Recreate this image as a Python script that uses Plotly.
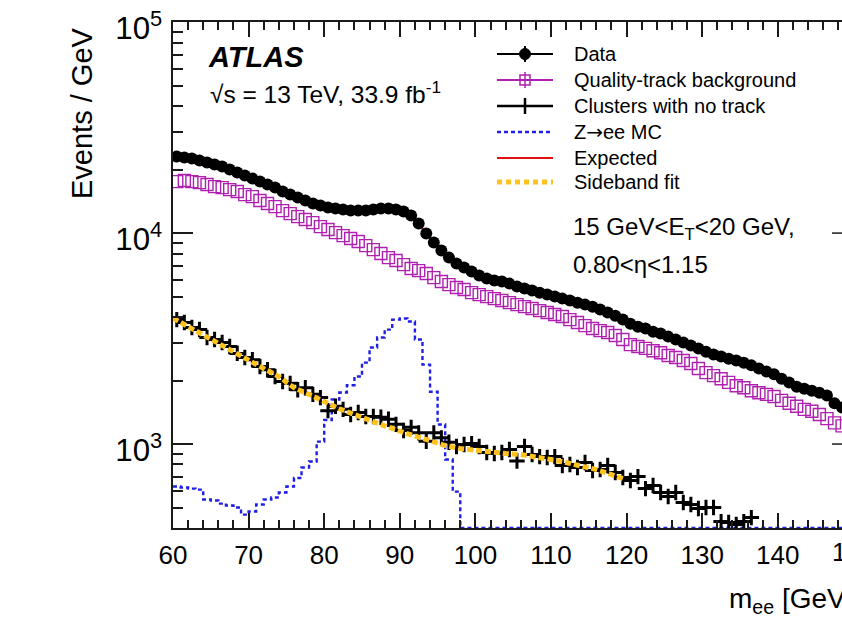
import numpy as np
import plotly.graph_objects as go

# ---------------- data ----------------
mee_bins = np.arange(60.5, 150.0, 1.0)  # 1 GeV bins, centres 60.5 ... 149.5

data_vals = [23050, 22790, 22540, 22060, 21580, 21120, 20660, 20000, 19350, 18730,
             18130, 17540, 16980, 16430, 15730, 15220, 14730, 14260, 13800, 13500,
             13210, 13070, 12920, 12780, 12780, 12780, 12920, 13070, 13070, 12920,
             12640, 12100, 11090, 9950, 9020, 8260, 7650, 7170, 6860, 6570,
             6290, 6090, 5960, 5890, 5760, 5580, 5460, 5340, 5220, 5110,
             5000, 4890, 4790, 4680, 4580, 4480, 4340, 4200, 4060, 3890,
             3720, 3600, 3530, 3410, 3340, 3230, 3130, 3030, 2930, 2840,
             2740, 2660, 2600, 2540, 2490, 2430, 2360, 2280, 2210, 2140,
             2040, 1960, 1870, 1830, 1790, 1750, 1700, 1560, 1490, 1440]

expected_vals = [23050, 22790, 22540, 22060, 21580, 21120, 20660, 20000, 19350, 18730,
                 18130, 17540, 16980, 16430, 15730, 15220, 14730, 14260, 13800, 13500,
                 13210, 13070, 12920, 12780, 12780, 12780, 12920, 13070, 13070, 12920,
                 12640, 12100, 11090, 9950, 9020, 8260, 7650, 7170, 6860, 6570,
                 6290, 6090, 5960, 5890, 5760, 5580, 5460, 5340, 5220, 5110,
                 5000, 4890, 4790, 4680, 4580, 4480, 4340, 4200, 4060, 3890,
                 3720, 3600, 3530, 3410, 3340, 3230, 3130, 3030, 2930, 2840,
                 2740, 2660, 2600, 2540, 2490, 2430, 2360, 2280, 2210, 2140,
                 2040, 1960, 1870, 1830, 1790, 1750, 1700, 1560, 1490, 1440]

quality_vals = [17540, 17740, 17540, 17350, 16980, 16610, 16430, 16070, 15730, 15220,
                14890, 14260, 13800, 13350, 12780, 12370, 11970, 11590, 11210, 10730,
                10390, 10050, 9730, 9420, 9120, 8720, 8350, 8000, 7650, 7410,
                7090, 6790, 6640, 6430, 6150, 5890, 5700, 5520, 5400, 5220,
                5110, 5000, 4890, 4790, 4680, 4580, 4480, 4390, 4290, 4200,
                4110, 4020, 3890, 3770, 3640, 3530, 3450, 3380, 3270, 3130,
                2960, 2900, 2840, 2770, 2710, 2630, 2570, 2490, 2410, 2280,
                2180, 2110, 2040, 1960, 1890, 1850, 1790, 1750, 1720, 1680,
                1610, 1560, 1510, 1460, 1430, 1380, 1320, 1260, 1220, 1180]

# clusters with no track: visible bins 60.5 ... 136.5
clusters_vals = [3890, 3770, 3570, 3490, 3200, 3130, 3030, 2900, 2690, 2570,
                 2510, 2330, 2250, 2090, 1980, 1940, 1810, 1850, 1720, 1660,
                 1440, 1510, 1460, 1380, 1410, 1350, 1350, 1340, 1310, 1240,
                 1160, 1200, 1130, 1030, 1130, 1070, 1020, 973, 995, 1005,
                 973, 912, 902, 912, 942, 831, 973, 892, 872, 863,
                 872, 791, 800, 774, 817, 749, 757, 791, 733, 694,
                 672, 701, 615, 636, 589, 564, 589, 528, 517, 495,
                 500, 500, 429, 425, 416, 429, 448]

# Z->ee MC histogram (bins 60-61 ... 149-150); 400 = drawn on the frame floor
zee_vals = [629, 622, 615, 608, 546, 540, 522, 511, 500, 463,
            479, 517, 546, 558, 589, 629, 690, 774, 827, 1027,
            1300, 1625, 1754, 1900, 2089, 2433, 2867, 3200, 3488, 3890,
            3934, 3807, 3130, 2380, 1770, 1237, 845, 595, 400, 400,
            400, 400, 400, 400, 400, 400, 400, 400, 400, 400,
            400, 400, 400, 400, 400, 400, 400, 400, 400, 400,
            400, 400, 400, 400, 400, 400, 400, 400, 400, 400,
            400, 400, 400, 400, 400, 400, 400, 400, 400, 400,
            400, 400, 400, 400, 400, 400, 400, 400, 400, 400]

fit_x = [60, 62, 64, 66, 68, 70, 72, 74, 76, 78, 80, 82, 84, 86, 88, 90,
         92, 94, 96, 98, 100, 102, 104, 106, 108, 110, 112, 114, 116, 118, 119.5]
fit_vals = [3950, 3600, 3270, 2990, 2740, 2510, 2280, 2090, 1850, 1720, 1590, 1470,
            1380, 1290, 1220, 1150, 1090, 1040, 984, 952, 932, 912, 902, 892, 872,
            845, 817, 791, 757, 717, 686]

legend_labels = ["Data", "Quality-track background", "Clusters with no track",
                 "Z<span style=\"font-family:'DejaVu Sans'\">\u2192</span>ee MC",
                 "Expected", "Sideband fit"]

# ---------------- styling / layout constants ----------------
FONT = "Liberation Sans"
W, H = 842, 619
L, T = 173, 22
PW, PH = 669, 506
PX_PER_GEV = 7.56
X0 = 60.0
X1 = X0 + PW / PX_PER_GEV
YLO, YHI = np.log10(400), 5.0005
AX = "#1a1a1a"

BLUE = "#1f1fe6"
MAG = "#b020b0"
ORANGE = "#ffc21f"
RED = "#e01010"


def px_x(px):
    return (px - L) / PW


def px_y(py):
    return (T + PH - py) / PH


def val_y(v):
    return (np.log10(v) - YLO) / (YHI - YLO)


fig = go.Figure()

# Z -> ee MC step histogram
fig.add_trace(go.Scatter(x=mee_bins - 0.5, y=zee_vals, mode="lines",
                         line=dict(color=BLUE, width=2.4, dash="4px,3px", shape="hv"),
                         name="Z\u2192ee MC"))
# Clusters with no track
fig.add_trace(go.Scatter(x=mee_bins[:len(clusters_vals)], y=clusters_vals, mode="markers",
                         marker=dict(symbol="cross-thin", size=11, color="black",
                                     line=dict(color="black", width=3)),
                         name="Clusters with no track"))
# Sideband fit
fig.add_trace(go.Scatter(x=fit_x, y=fit_vals, mode="lines",
                         line=dict(color=ORANGE, width=5, dash="6px,3px"),
                         name="Sideband fit"))
# Quality-track background
fig.add_trace(go.Scatter(x=mee_bins, y=quality_vals, mode="markers",
                         marker=dict(symbol="square-open", size=12, color=MAG,
                                     line=dict(color=MAG, width=1.4)),
                         name="Quality-track background"))
# Expected
fig.add_trace(go.Scatter(x=mee_bins, y=expected_vals, mode="lines",
                         line=dict(color=RED, width=1.6), name="Expected"))
# Data
fig.add_trace(go.Scatter(x=mee_bins, y=data_vals, mode="markers",
                         marker=dict(symbol="circle", size=12, color="black"),
                         name="Data"))

# ---------------- axes ----------------
fig.update_xaxes(range=[X0, X1], showgrid=False, zeroline=False,
                 showline=True, linecolor=AX, linewidth=1.5, mirror="ticks",
                 ticks="inside", ticklen=15, tickwidth=1.5, tickcolor=AX,
                 tick0=60, dtick=10,
                 minor=dict(ticks="inside", ticklen=8, tickwidth=1.5, tickcolor=AX, dtick=2),
                 tickfont=dict(family=FONT, size=26, color="black"),
                 ticklabelstandoff=3)
fig.update_yaxes(type="log", range=[YLO, YHI], showgrid=False, zeroline=False,
                 showline=True, linecolor=AX, linewidth=1.5, mirror=False,
                 ticks="inside", ticklen=20, tickwidth=1.5, tickcolor=AX,
                 dtick=1, exponentformat="power",
                 minor=dict(ticks="inside", ticklen=10, tickwidth=1.5, tickcolor=AX, dtick="D1"),
                 tickfont=dict(family=FONT, size=25, color="black"),
                 ticklabelstandoff=4, ticklabelshift=6, ticklabeloverflow="allow")

shapes = []
annotations = []

# right-frame tick stubs (frame itself lies just outside the picture)
for v in [1000, 10000]:
    shapes.append(dict(type="line", xref="paper", yref="paper",
                       x0=px_x(832), x1=1.0, y0=val_y(v), y1=val_y(v),
                       line=dict(color=AX, width=1.5)))

# ---------------- manual legend ----------------
rows_y = [54, 80, 106, 132, 158, 182]
gx0, gx1, gxc = 497, 553, 525


def hline(py, color, width, dash="solid"):
    shapes.append(dict(type="line", xref="paper", yref="paper",
                       x0=px_x(gx0), x1=px_x(gx1), y0=px_y(py), y1=px_y(py),
                       line=dict(color=color, width=width, dash=dash)))


def vline(py, half, color, width):
    shapes.append(dict(type="line", xref="paper", yref="paper",
                       x0=px_x(gxc), x1=px_x(gxc), y0=px_y(py - half), y1=px_y(py + half),
                       line=dict(color=color, width=width)))


# Data
hline(rows_y[0], "black", 2)
vline(rows_y[0], 8, "black", 2)
shapes.append(dict(type="circle", xref="paper", yref="paper",
                   x0=px_x(gxc - 5.5), x1=px_x(gxc + 5.5),
                   y0=px_y(rows_y[0] + 5.5), y1=px_y(rows_y[0] - 5.5),
                   fillcolor="black", line=dict(color="black", width=1)))
# Quality-track
hline(rows_y[1], MAG, 2)
vline(rows_y[1], 8, MAG, 1.5)
shapes.append(dict(type="rect", xref="paper", yref="paper",
                   x0=px_x(gxc - 5), x1=px_x(gxc + 5),
                   y0=px_y(rows_y[1] + 5), y1=px_y(rows_y[1] - 5),
                   line=dict(color=MAG, width=1.5)))
# Clusters
hline(rows_y[2], "black", 2.5)
vline(rows_y[2], 8, "black", 2.5)
# Z->ee
hline(rows_y[3], BLUE, 2.5, "4px,3px")
# Expected
hline(rows_y[4], RED, 2)
# Sideband fit
hline(rows_y[5], ORANGE, 5, "5px,4px")

for lab, py in zip(legend_labels, rows_y):
    annotations.append(dict(text=lab, xref="paper", yref="paper",
                            x=px_x(572), y=px_y(py), xanchor="left", yanchor="middle",
                            showarrow=False, font=dict(family=FONT, size=20, color="black")))

# ---------------- other labels ----------------
annotations += [
    dict(text="<b><i>ATLAS</i></b>", xref="paper", yref="paper",
         x=px_x(206), y=px_y(57), xanchor="left", yanchor="middle", showarrow=False,
         font=dict(family=FONT, size=29, color="black")),
    dict(text="\u221As = 13 TeV, 33.9 fb<sup>-1</sup>", xref="paper", yref="paper",
         x=px_x(208), y=px_y(93), xanchor="left", yanchor="middle", showarrow=False,
         font=dict(family=FONT, size=24.5, color="black")),
    dict(text="15 GeV&lt;E<sub>T</sub>&lt;20 GeV,", xref="paper", yref="paper",
         x=px_x(571), y=px_y(228), xanchor="left", yanchor="middle", showarrow=False,
         font=dict(family=FONT, size=24, color="black")),
    dict(text="0.80&lt;\u03b7&lt;1.15", xref="paper", yref="paper",
         x=px_x(571), y=px_y(264), xanchor="left", yanchor="middle", showarrow=False,
         font=dict(family=FONT, size=24, color="black")),
    dict(text="Events / GeV", xref="paper", yref="paper", textangle=-90,
         x=px_x(82), y=px_y(113), xanchor="center", yanchor="middle", showarrow=False,
         font=dict(family=FONT, size=29, color="black")),
    dict(text="m<sub>ee</sub> [GeV]", xref="paper", yref="paper",
         x=px_x(727), y=px_y(600), xanchor="left", yanchor="middle", showarrow=False,
         font=dict(family=FONT, size=28, color="black")),
    # tick label of 150, which sits beyond the picture's right edge
    dict(text="150", xref="paper", yref="paper",
         x=px_x(L + (150 - X0) * PX_PER_GEV), y=px_y(552), xanchor="center",
         yanchor="middle", showarrow=False,
         font=dict(family=FONT, size=26, color="black")),
]

fig.update_layout(width=W, height=H, margin=dict(l=L, r=W - L - PW, t=T, b=H - T - PH),
                  paper_bgcolor="white", plot_bgcolor="white", showlegend=False,
                  shapes=shapes, annotations=annotations,
                  font=dict(family=FONT, color="black"))

fig.write_html("out.html", config={"displayModeBar": False},
               post_script="document.body.style.margin='0';document.body.style.overflow='hidden';")
